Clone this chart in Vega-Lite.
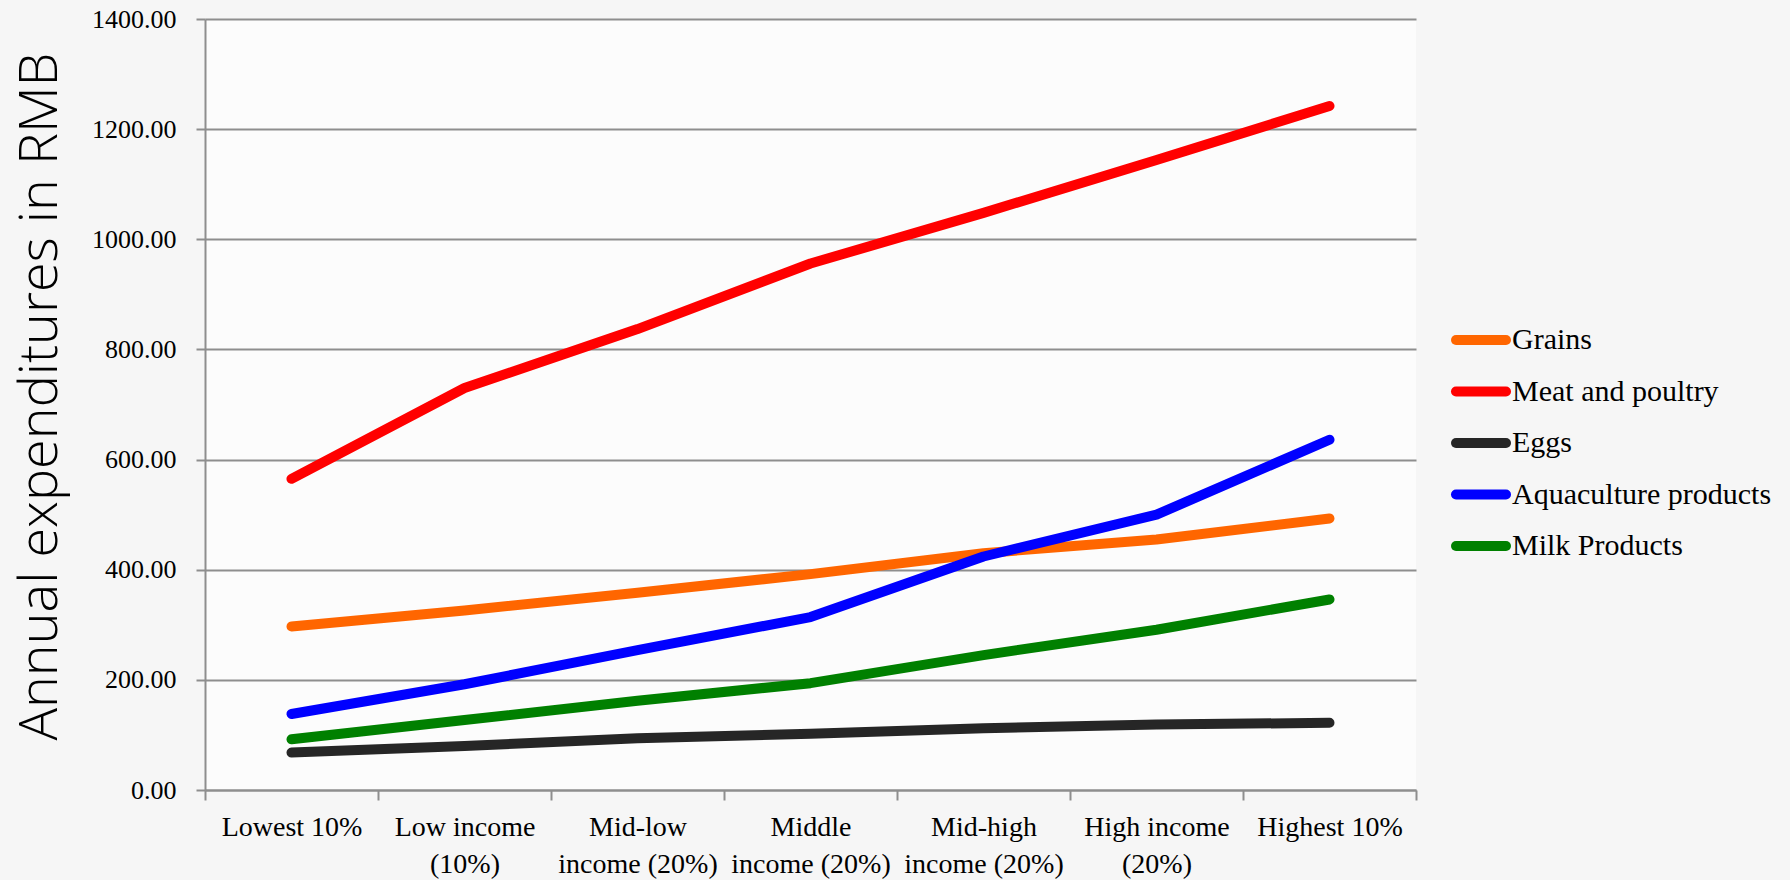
{
  "$schema": "https://vega.github.io/schema/vega-lite/v6.json",
  "width": 1211,
  "height": 771,
  "autosize": {"type": "none"},
  "padding": {"left": 205, "top": 19, "right": 374, "bottom": 90},
  "background": "#f6f6f6",
  "config": {"view": {"stroke": null, "fill": "#fcfcfc"}},
  "data": {
    "values": [
      {"group": "Lowest 10%", "category": "Grains", "value": 297},
      {"group": "Low income (10%)", "category": "Grains", "value": 326},
      {"group": "Mid-low income (20%)", "category": "Grains", "value": 358},
      {"group": "Middle income (20%)", "category": "Grains", "value": 392},
      {"group": "Mid-high income (20%)", "category": "Grains", "value": 430},
      {"group": "High income (20%)", "category": "Grains", "value": 455},
      {"group": "Highest 10%", "category": "Grains", "value": 493},
      {"group": "Lowest 10%", "category": "Meat and poultry", "value": 565},
      {"group": "Low income (10%)", "category": "Meat and poultry", "value": 730},
      {"group": "Mid-low income (20%)", "category": "Meat and poultry", "value": 837},
      {"group": "Middle income (20%)", "category": "Meat and poultry", "value": 956},
      {"group": "Mid-high income (20%)", "category": "Meat and poultry", "value": 1048},
      {"group": "High income (20%)", "category": "Meat and poultry", "value": 1144},
      {"group": "Highest 10%", "category": "Meat and poultry", "value": 1242},
      {"group": "Lowest 10%", "category": "Eggs", "value": 68},
      {"group": "Low income (10%)", "category": "Eggs", "value": 80},
      {"group": "Mid-low income (20%)", "category": "Eggs", "value": 94},
      {"group": "Middle income (20%)", "category": "Eggs", "value": 102},
      {"group": "Mid-high income (20%)", "category": "Eggs", "value": 112},
      {"group": "High income (20%)", "category": "Eggs", "value": 119},
      {"group": "Highest 10%", "category": "Eggs", "value": 122},
      {"group": "Lowest 10%", "category": "Aquaculture products", "value": 138},
      {"group": "Low income (10%)", "category": "Aquaculture products", "value": 192},
      {"group": "Mid-low income (20%)", "category": "Aquaculture products", "value": 254},
      {"group": "Middle income (20%)", "category": "Aquaculture products", "value": 314},
      {"group": "Mid-high income (20%)", "category": "Aquaculture products", "value": 424},
      {"group": "High income (20%)", "category": "Aquaculture products", "value": 500},
      {"group": "Highest 10%", "category": "Aquaculture products", "value": 636},
      {"group": "Lowest 10%", "category": "Milk Products", "value": 92},
      {"group": "Low income (10%)", "category": "Milk Products", "value": 127},
      {"group": "Mid-low income (20%)", "category": "Milk Products", "value": 162},
      {"group": "Middle income (20%)", "category": "Milk Products", "value": 194},
      {"group": "Mid-high income (20%)", "category": "Milk Products", "value": 245},
      {"group": "High income (20%)", "category": "Milk Products", "value": 291},
      {"group": "Highest 10%", "category": "Milk Products", "value": 346}
    ]
  },
  "mark": {"type": "line", "strokeWidth": 10, "strokeCap": "round", "strokeJoin": "round"},
  "encoding": {
    "x": {
      "field": "group",
      "type": "nominal",
      "sort": ["Lowest 10%", "Low income (10%)", "Mid-low income (20%)", "Middle income (20%)", "Mid-high income (20%)", "High income (20%)", "Highest 10%"],
      "scale": {"type": "band", "paddingInner": 0, "paddingOuter": 0},
      "axis": {
        "title": null,
        "tickBand": "extent",
        "grid": false,
        "domainColor": "#8e8e8e",
        "domainWidth": 2,
        "tickColor": "#8e8e8e",
        "tickWidth": 2,
        "tickSize": 10,
        "labelAngle": 0,
        "labelFont": "Liberation Serif",
        "labelFontSize": 28,
        "labelColor": "#000000",
        "labelLineHeight": 37,
        "labelPadding": 13,
        "labelLimit": 400,
        "labelExpr": "datum.label == 'Low income (10%)' ? ['Low income', '(10%)'] : datum.label == 'High income (20%)' ? ['High income', '(20%)'] : indexof(datum.label, 'Mid') == 0 ? [substring(datum.label, 0, indexof(datum.label, ' ')), substring(datum.label, indexof(datum.label, ' ') + 1)] : datum.label"
      }
    },
    "y": {
      "field": "value",
      "type": "quantitative",
      "scale": {"domain": [0, 1400], "nice": false},
      "axis": {
        "values": [0, 200, 400, 600, 800, 1000, 1200, 1400],
        "format": ".2f",
        "grid": true,
        "gridColor": "#8e8e8e",
        "gridWidth": 2,
        "domainColor": "#8e8e8e",
        "domainWidth": 2,
        "tickColor": "#8e8e8e",
        "tickWidth": 2,
        "tickSize": 9,
        "labelFont": "Liberation Serif",
        "labelFontSize": 26,
        "labelColor": "#000000",
        "labelPadding": 20,
        "title": "Annual expenditures in RMB",
        "titleFont": "Open Sans",
        "titleFontSize": 54,
        "titleFontWeight": 300,
        "titleColor": "#000000",
        "titleAngle": -90,
        "titleBaseline": "alphabetic",
        "titleAlign": "center",
        "titleX": -149,
        "titleY": 377
      }
    },
    "color": {
      "field": "category",
      "type": "nominal",
      "scale": {
        "domain": ["Grains", "Meat and poultry", "Eggs", "Aquaculture products", "Milk Products"],
        "range": ["#ff6600", "#ff0000", "#262626", "#0000ff", "#008000"]
      },
      "legend": {
        "title": null,
        "orient": "none",
        "legendX": 1246,
        "legendY": 291,
        "padding": 0,
        "symbolType": "stroke",
        "symbolSize": 2500,
        "symbolStrokeWidth": 10,
        "rowPadding": 1.5,
        "labelOffset": 1,
        "labelFont": "Liberation Serif",
        "labelFontSize": 30,
        "labelColor": "#000000",
        "labelLimit": 400,
        "encode": {"symbols": {"update": {"strokeCap": {"value": "round"}}}}
      }
    }
  }
}
